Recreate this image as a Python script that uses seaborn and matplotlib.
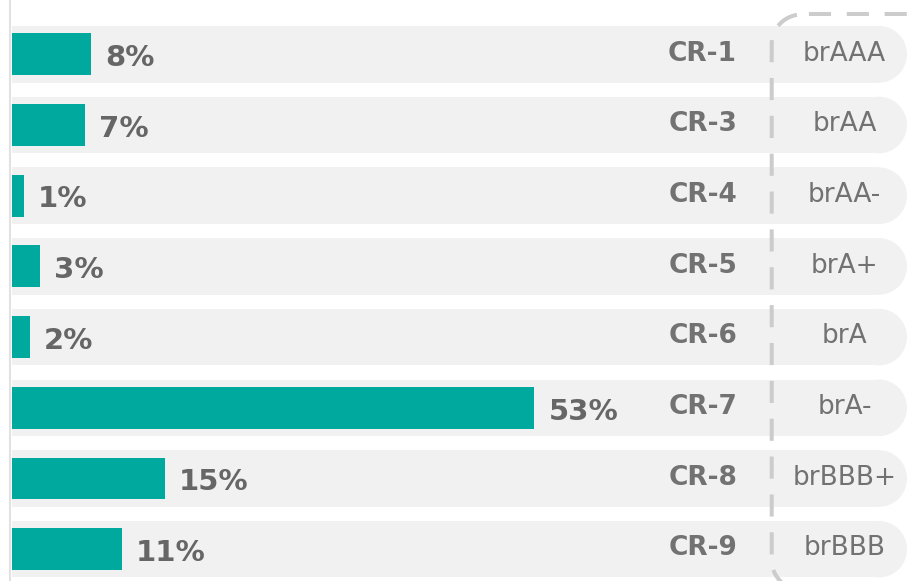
import matplotlib
matplotlib.use("Agg")
import numpy as np
import matplotlib.pyplot as plt
import matplotlib.patches as mpatches
import seaborn as sns

# chart data
categories = ['CR-1', 'CR-3', 'CR-4', 'CR-5', 'CR-6', 'CR-7', 'CR-8', 'CR-9']
ratings = ['brAAA', 'brAA', 'brAA-', 'brA+', 'brA', 'brA-', 'brBBB+', 'brBBB']
shares = [8.0, 7.4, 1.15, 2.8, 1.75, 53.0, 15.5, 11.1]
share_labels = ['8%', '7%', '1%', '3%', '2%', '53%', '15%', '11%']

teal = '#00a99d'
band_grey = '#f1f1f1'
text_grey = '#666666'
label_grey = '#727272'
dash_grey = '#cccccc'

sns.set_theme(style='white')
plt.rcParams['font.family'] = ['DejaVu Sans']

W, H = 909, 581
fig = plt.figure(figsize=(W / 100, H / 100), dpi=100)
ax = fig.add_axes([0, 0, 1, 1])

# pixel geometry -> data units
px_per_pct = 9.85
x0_px = 12.3
row0_px = 54.3
row_px = 70.7


def to_x(px):
    return (px - x0_px) / px_per_pct


def to_y(py):
    return (py - row0_px) / row_px


n = len(categories)
band_h = 0.80
pill_r = 28 / px_per_pct
pill_c = to_x(907) - pill_r

# grey row bands with a rounded right end
ax.barh(range(n), width=pill_c, left=0, height=band_h, color=band_grey,
        linewidth=0, zorder=0.5)
for i in range(n):
    ax.add_patch(mpatches.Ellipse((pill_c, i), 2 * pill_r, band_h,
                                  facecolor=band_grey, edgecolor='none',
                                  zorder=0.5))

sns.barplot(x=shares, y=categories, orient='y', color=teal, saturation=1,
            width=0.594, linewidth=0, ax=ax, zorder=2)

# thin line at the left edge
ax.axvline(to_x(9.5), color='#e2e2e2', lw=1.5, zorder=1)

# dashed rounded frame around the rating column
fx, ftop, fbot, fr = 771.7, 14.5, 590.0, 30.0
t = np.linspace(0, np.pi / 2, 30)
top_arc_x = fx + fr - fr * np.sin(t)
top_arc_y = ftop + fr - fr * np.cos(t)
bot_arc_x = fx + fr - fr * np.cos(t)
bot_arc_y = fbot - fr + fr * np.sin(t)
side_x = np.concatenate([top_arc_x, bot_arc_x])
side_y = np.concatenate([top_arc_y, bot_arc_y])
lw = 2.9
ax.plot(to_x(np.array([930, fx + fr])), to_y(np.array([ftop, ftop])),
        color=dash_grey, lw=lw, linestyle=(8.6, (5.5, 3.9)), zorder=3)
ax.plot(to_x(side_x), to_y(side_y), color=dash_grey, lw=lw,
        linestyle=(8.2, (5.5, 3.9)), zorder=3)

gap = 14 / px_per_pct
cr_x = to_x(737)
rating_x = to_x(844.5)
for i in range(n):
    ax.text(shares[i] + gap, i + 0.053, share_labels[i], ha='left', va='center',
            fontsize=21, fontweight='bold', color=text_grey, zorder=4)
    ax.text(cr_x, i - 0.01, categories[i], ha='right', va='center',
            fontsize=19, fontweight='bold', color=label_grey, zorder=4)
    ax.text(rating_x, i - 0.01, ratings[i], ha='center', va='center',
            fontsize=19, color=label_grey, zorder=4)

ax.set_xlim(to_x(0), to_x(W))
ax.set_ylim(to_y(H), to_y(0))
ax.axis('off')

fig.savefig('out.png', dpi=100)
